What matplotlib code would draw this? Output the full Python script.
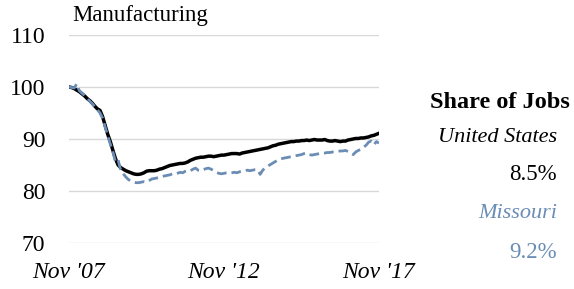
import numpy as np
import matplotlib
matplotlib.use("Agg")
import matplotlib.pyplot as plt

plt.rcParams['font.family'] = ['Liberation Serif', 'DejaVu Serif']

# monthly index, Nov 2007 = 100, Nov 2007 .. Nov 2017
us = [100.0, 99.9, 99.7, 99.4, 99.1, 98.7, 98.3, 97.8, 97.4, 96.9,
      96.3, 95.8, 95.5, 94.3, 92.6, 90.9, 89.5, 87.8, 86.2, 85.0,
      84.5, 84.2, 83.9, 83.7, 83.5, 83.3, 83.2, 83.2, 83.3, 83.5,
      83.8, 83.9, 83.9, 83.9, 84.0, 84.2, 84.3, 84.5, 84.7, 84.9,
      85.0, 85.1, 85.2, 85.3, 85.3, 85.4, 85.6, 85.9, 86.1, 86.3,
      86.4, 86.5, 86.5, 86.6, 86.7, 86.7, 86.6, 86.7, 86.8, 86.9,
      86.9, 87.0, 87.1, 87.2, 87.2, 87.2, 87.1, 87.3, 87.4, 87.5,
      87.6, 87.7, 87.8, 87.9, 88.0, 88.1, 88.2, 88.3, 88.5, 88.7,
      88.8, 89.0, 89.1, 89.2, 89.3, 89.4, 89.5, 89.5, 89.6, 89.6,
      89.7, 89.7, 89.8, 89.7, 89.8, 89.9, 89.8, 89.8, 89.8, 89.9,
      89.7, 89.6, 89.6, 89.7, 89.6, 89.5, 89.6, 89.6, 89.8, 89.9,
      90.0, 90.1, 90.1, 90.2, 90.2, 90.3, 90.4, 90.6, 90.7, 90.9,
      91.1]
missouri = [100.0, 99.9, 99.8, 100.6, 99.3, 98.8, 98.4, 97.9, 97.3, 96.8,
            96.2, 95.6, 95.0, 94.0, 92.3, 90.6, 89.0, 87.5, 85.6, 86.0,
            84.0, 83.3, 82.7, 82.2, 81.9, 81.7, 81.6, 81.6, 81.7, 81.8,
            81.7, 82.0, 82.3, 82.4, 82.5, 82.6, 82.8, 82.9, 83.0, 83.1,
            83.3, 83.2, 83.4, 83.6, 83.5, 83.8, 84.0, 83.9, 84.2, 84.4,
            84.0, 83.9, 84.1, 84.3, 84.4, 84.2, 83.9, 83.6, 83.4, 83.3,
            83.4, 83.5, 83.4, 83.5, 83.6, 83.5, 83.7, 83.8, 83.9, 84.0,
            83.9, 84.0, 84.1, 84.1, 83.2, 84.0, 84.5, 84.8, 85.1, 85.4,
            85.7, 86.0, 86.2, 86.3, 86.4, 86.5, 86.6, 86.7, 86.8, 86.9,
            87.0, 87.2, 87.3, 87.0, 86.9, 87.0, 87.1, 87.2, 87.3, 87.3,
            87.4, 87.4, 87.5, 87.5, 87.6, 87.7, 87.7, 87.8, 87.6, 87.3,
            87.0, 87.5, 87.8, 88.0, 88.4, 88.8, 89.4, 89.6, 88.9, 89.5,
            89.2]
tick_pos = [0, 60, 120]
tick_labels = ["Nov '07", "Nov '12", "Nov '17"]
yticks = [70, 80, 90, 100, 110]

blue = '#6b8db5'
months = np.arange(len(us))

fig = plt.figure(figsize=(5.74, 2.89), dpi=100)
ax = fig.add_axes([69/574, 46/289, 310/574, 208/289])

ax.plot(months, missouri, color=blue, lw=2.0, ls=(0, (3.5, 1.8)), zorder=3)
ax.plot(months, us, color='black', lw=2.5, zorder=2)

ax.set_xlim(0, 120)
ax.set_ylim(70, 110)
ax.set_yticks(yticks)
ax.set_xticks(tick_pos)
ax.set_xticklabels(tick_labels, fontstyle='italic', fontsize=17)
ax.tick_params(axis='y', labelsize=17, length=0, pad=17)
ax.tick_params(axis='x', length=0, pad=14)
ax.grid(axis='y', color='#d9d9d9', lw=1)
ax.set_axisbelow(True)
for s in ax.spines.values():
    s.set_visible(False)

fig.text(72/574, 1 - 16/289, 'Manufacturing', fontsize=16.5, va='center', ha='left')

fig.text(570/574, 1 - 103/289, 'Share of Jobs', fontsize=17.5, fontweight='bold', ha='right', va='center')
fig.text(557/574, 1 - 138/289, 'United States', fontsize=16, fontstyle='italic', ha='right', va='center')
fig.text(557/574, 1 - 175/289, '8.5%', fontsize=16.5, ha='right', va='center')
fig.text(557/574, 1 - 213/289, 'Missouri', fontsize=16, fontstyle='italic', color=blue, ha='right', va='center')
fig.text(557/574, 1 - 252/289, '9.2%', fontsize=16.5, color=blue, ha='right', va='center')

fig.savefig('out.png', dpi=100)
